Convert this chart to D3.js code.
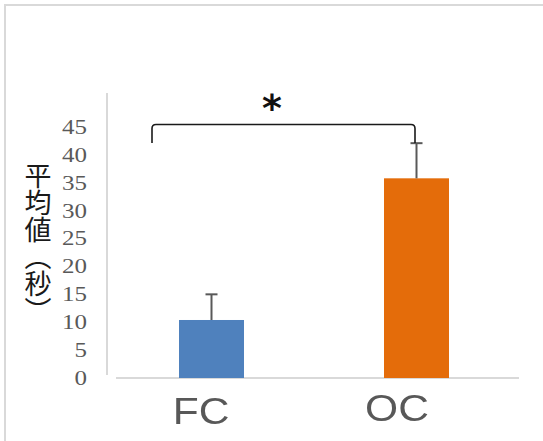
<!DOCTYPE html>
<html>
<head>
<meta charset="utf-8">
<script src="https://cdn.jsdelivr.net/npm/d3@7"></script>
<style>
  html, body { margin: 0; padding: 0; background: #fff; }
  svg { display: block; }
</style>
</head>
<body>
<svg id="chart" width="543" height="441"></svg>
<script>
// Mean time per group, upper error (SD), and axis ticks
const categories = ["FC", "OC"];
const means = [10.4, 35.8];
const errors = [4.6, 6.3];
const yTicks = [0, 5, 10, 15, 20, 25, 30, 35, 40, 45];
const yTitle = "平均値（秒）";
const significance = "*";
const barColors = ["#4f81bd", "#e46c0a"];

const svg = d3.select("#chart");

const defs = svg.append("defs");
defs.append("filter").attr("id", "soft")
  .append("feGaussianBlur").attr("stdDeviation", 0.6);

// outer frame (right and bottom edges fall outside the view)
svg.append("path")
  .attr("d", "M5,441 V5 H543")
  .attr("fill", "none")
  .attr("stroke", "#d9d9d9")
  .attr("stroke-width", 2);

const y = d3.scaleLinear().domain([0, 45]).range([378, 127]);
const x = d3.scaleBand().domain(categories).range([109, 519]).padding(0);
const barW = x.bandwidth() * 0.317;
const cx = c => x(c) + x.bandwidth() / 2;

// axis lines
svg.append("line")
  .attr("x1", 107).attr("x2", 107)
  .attr("y1", 93).attr("y2", 375)
  .attr("stroke", "#d9d9d9").attr("stroke-width", 2);
svg.append("line")
  .attr("x1", 116).attr("x2", 519)
  .attr("y1", y(0)).attr("y2", y(0))
  .attr("stroke", "#d9d9d9").attr("stroke-width", 2);

// y tick labels (wide serif numerals)
const yAxis = d3.axisLeft(y).tickValues(yTicks).tickSize(0).tickPadding(0);
const gy = svg.append("g").attr("transform", "translate(87,0) scale(1.25,1)").call(yAxis);
gy.select(".domain").remove();
gy.selectAll("text")
  .attr("fill", "#595959")
  .attr("font-family", "'Liberation Serif', 'DejaVu Serif', serif")
  .attr("font-size", 20);

// y title, set vertically
svg.append("text")
  .attr("x", 38).attr("y", 162)
  .attr("font-family", "'Noto Sans CJK JP', sans-serif")
  .attr("font-size", 27)
  .attr("fill", "#1a1a1a")
  .style("writing-mode", "vertical-rl")
  .text(yTitle);

// bars
const data = categories.map((c, i) => ({ c, m: means[i], e: errors[i], col: barColors[i] }));
svg.selectAll("rect.bar").data(data).join("rect")
  .attr("class", "bar")
  .attr("x", d => cx(d.c) - barW / 2)
  .attr("y", d => y(d.m))
  .attr("width", barW)
  .attr("height", d => y(0) - y(d.m))
  .attr("fill", d => d.col);

// upper error bars
const eb = svg.selectAll("g.err").data(data).join("g").attr("class", "err")
  .attr("stroke", "#595959").attr("stroke-width", 2);
eb.append("line")
  .attr("x1", d => cx(d.c)).attr("x2", d => cx(d.c))
  .attr("y1", d => y(d.m)).attr("y2", d => y(d.m + d.e));
eb.append("line")
  .attr("x1", d => cx(d.c) - 6).attr("x2", d => cx(d.c) + 6)
  .attr("y1", d => y(d.m + d.e)).attr("y2", d => y(d.m + d.e));

// significance bracket
const bx1 = 152, bx2 = cx("OC") - 1.5, bTop = 124.5, bLeg = 143;
svg.append("path")
  .attr("d", `M${bx1},${bLeg} V${bTop + 4} Q${bx1},${bTop} ${bx1 + 4},${bTop} H${bx2 - 4} Q${bx2},${bTop} ${bx2},${bTop + 4} V${bLeg}`)
  .attr("fill", "none")
  .attr("stroke", "#1a1a1a")
  .attr("stroke-width", 1.6);
svg.append("text")
  .attr("x", 272).attr("y", 121)
  .attr("text-anchor", "middle")
  .attr("font-family", "'DejaVu Sans', sans-serif")
  .attr("font-weight", "bold")
  .attr("font-size", 38)
  .attr("fill", "#111")
  .text(significance);

// category labels
const xl = d3.scalePoint().domain(categories).range([201, 397]);
svg.selectAll("text.cat").data(categories).join("text")
  .attr("class", "cat")
  .attr("transform", d => `translate(${xl(d)},${d === "FC" ? 424 : 421}) scale(1.15,1)`)
  .attr("text-anchor", "middle")
  .attr("font-family", "'Liberation Sans', Arial, sans-serif")
  .attr("font-size", 37)
  .attr("fill", "#595959")
  .attr("filter", "url(#soft)")
  .text(d => d);
</script>
</body>
</html>
